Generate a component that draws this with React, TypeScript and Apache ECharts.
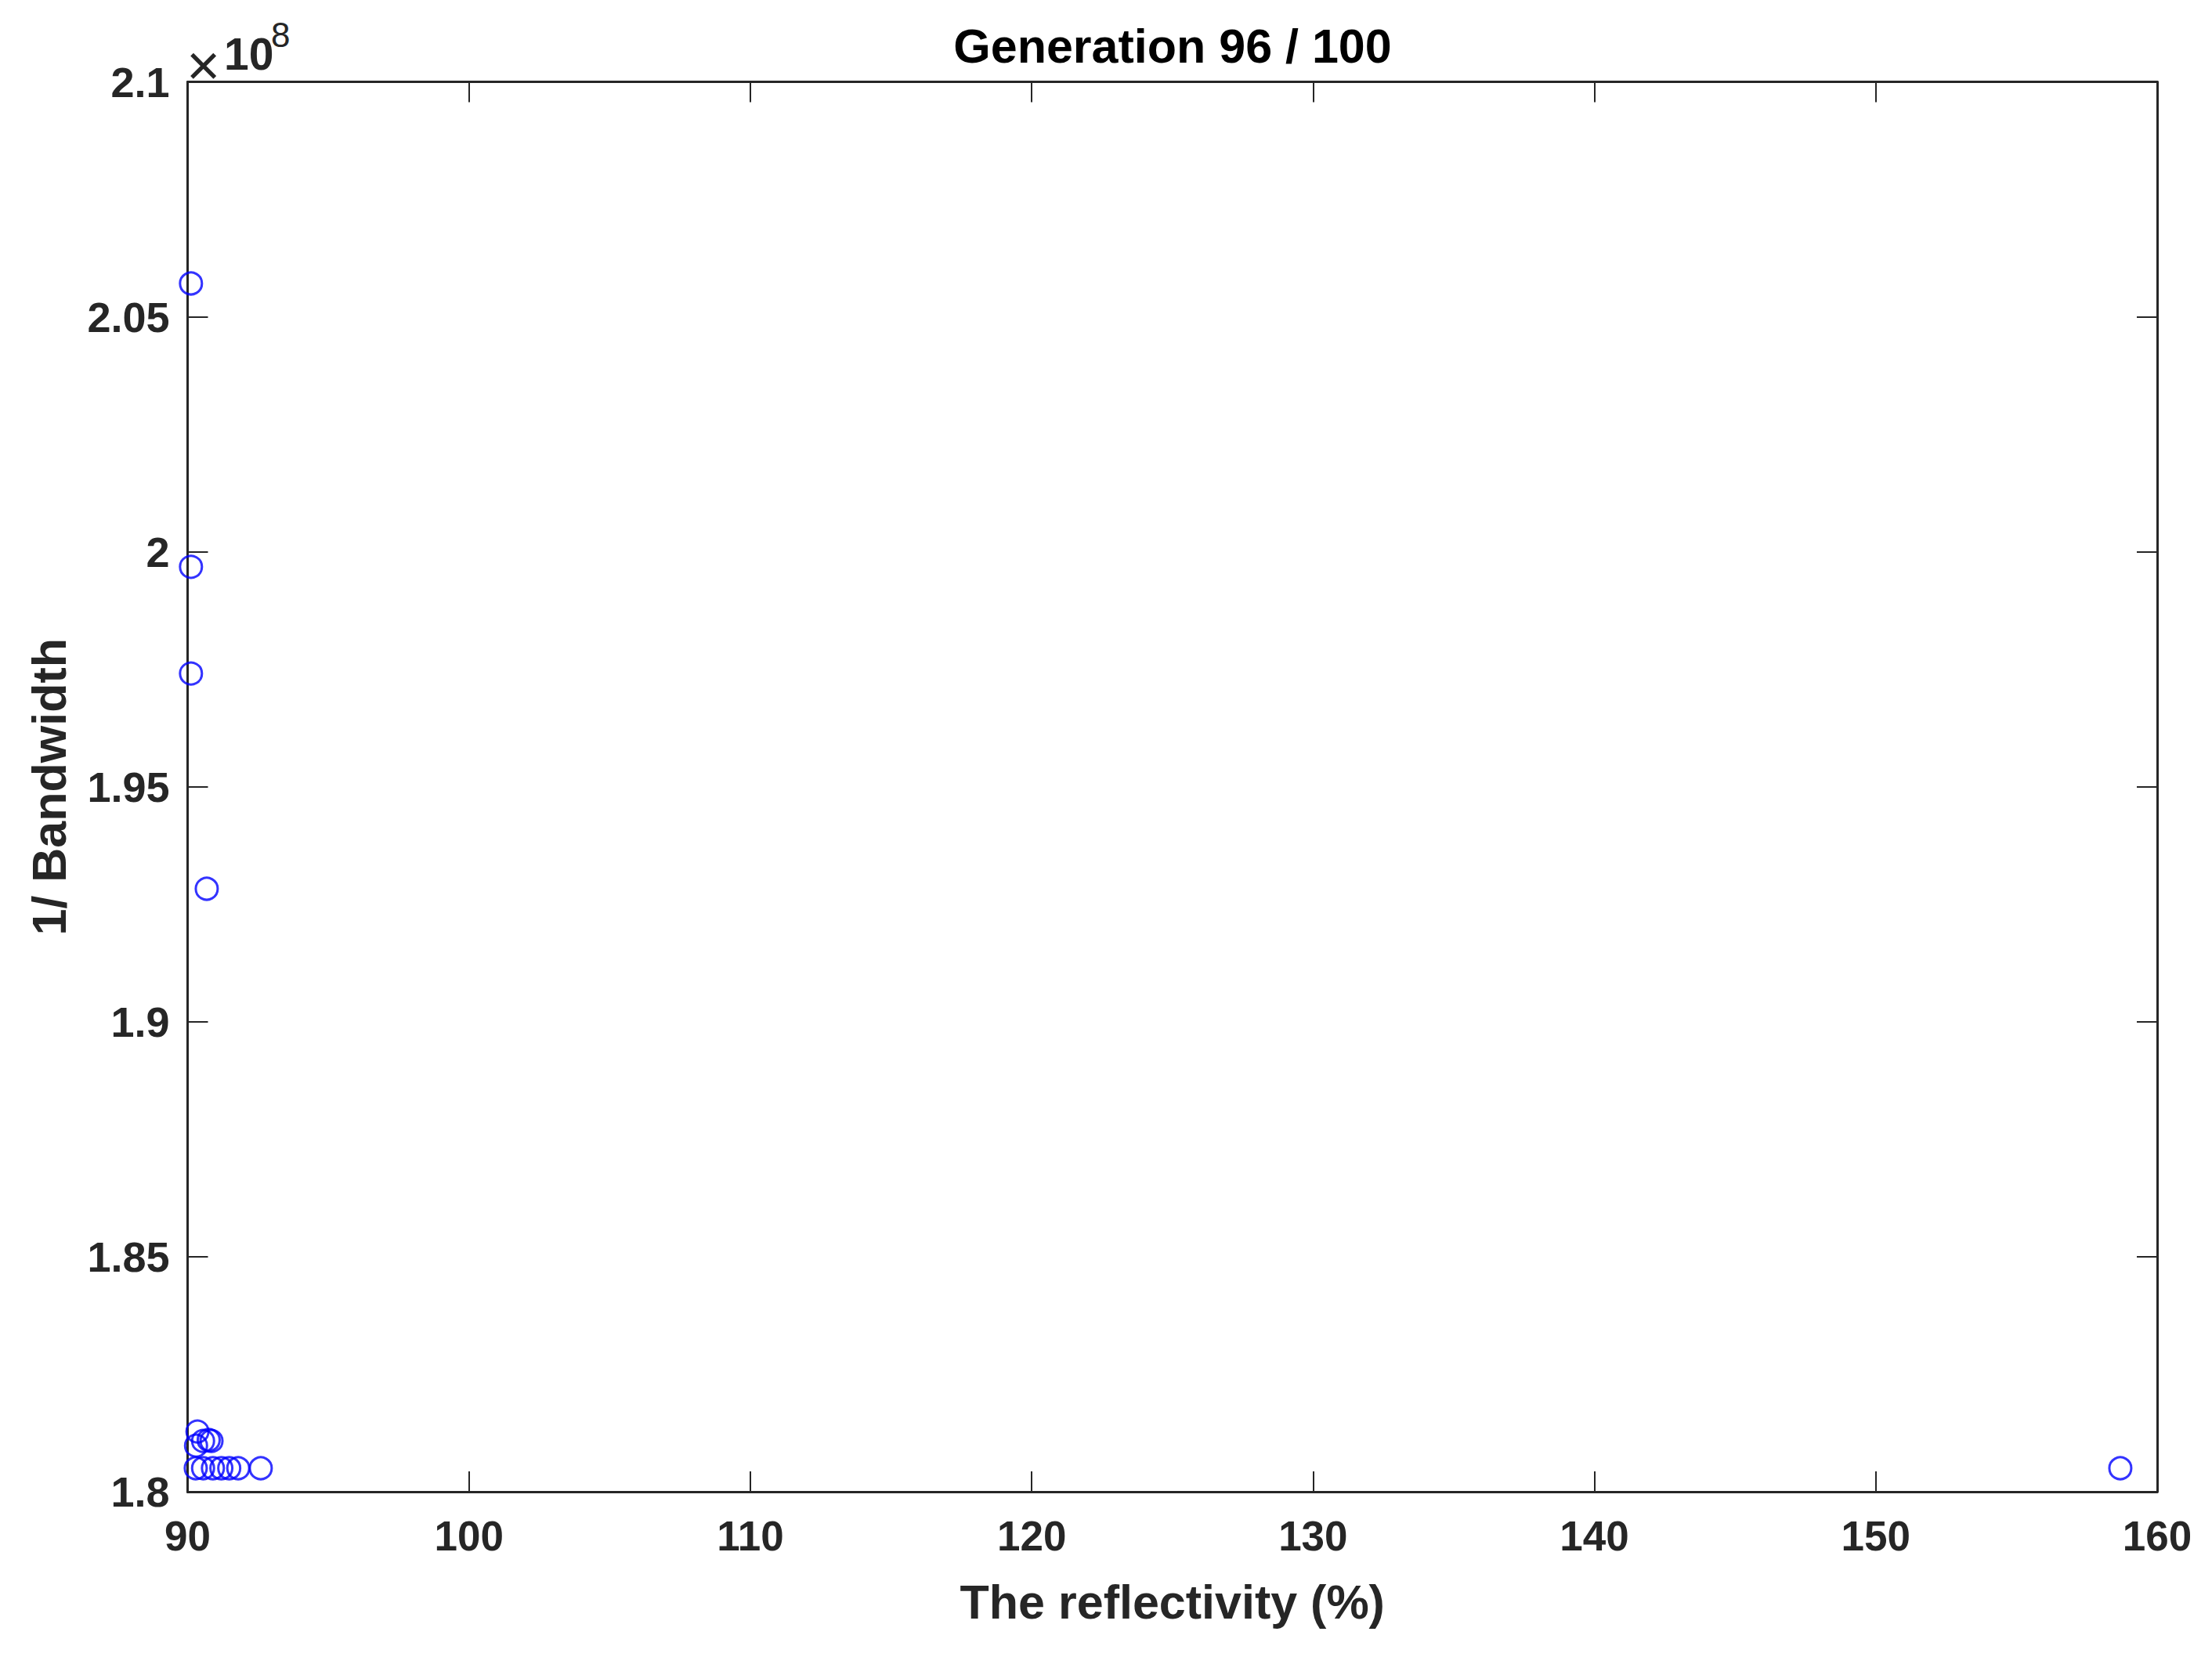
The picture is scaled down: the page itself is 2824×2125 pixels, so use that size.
import React, { useEffect, useRef } from "react";
import * as echarts from "echarts";

const titleText = "Generation 96 / 100";
const xName = "The reflectivity (%)";
const yName = "1/ Bandwidth";
const xMin = 90;
const xMax = 160;
const xStep = 10;
const yMin = 1.8e8;
const yMax = 2.1e8;
const yStep = 0.05e8;

// reflectivity (%)
const reflectivity = [
  90.12, 90.12, 90.12, 90.68,
  90.35, 90.3, 90.55, 90.75, 90.85,
  90.29, 90.55, 90.9, 91.2, 91.48, 91.8, 92.6, 158.69,
];
// 1/Bandwidth (x 1e8)
const invBandwidth = [
  2.0571, 1.9968, 1.9741, 1.9283,
  1.8128, 1.8098, 1.8108, 1.811, 1.8108,
  1.805, 1.805, 1.805, 1.805, 1.805, 1.805, 1.805, 1.805,
];

const AX = "#262626";
const FONT = "'Liberation Sans', Arial, Helvetica, sans-serif";

export default function App() {
  const ref = useRef<HTMLDivElement>(null);
  useEffect(() => {
    document.body.style.margin = "0";
    if (!ref.current) return;
    const chart = echarts.init(ref.current, null, { renderer: "svg" });
    const data = reflectivity.map((x, i) => [x, invBandwidth[i] * 1e8]);
    const common = {
      type: "value" as const,
      axisLine: { show: true, onZero: false, lineStyle: { color: AX, width: 3 } },
      axisTick: { show: true, inside: true, length: 26, lineStyle: { color: AX, width: 2 } },
      splitLine: { show: false },
    };
    const fmtY = (v: number) => String(+(v / 1e8).toFixed(2));
    chart.setOption({
      animation: false,
      backgroundColor: "#ffffff",
      title: {
        text: titleText,
        left: 1497,
        textAlign: "center",
        top: 28,
        padding: 0,
        textStyle: { fontFamily: FONT, fontSize: 61, fontWeight: "bold", color: "#000" },
      },
      grid: { left: 239.5, right: 70, top: 104.5, bottom: 220, containLabel: false },
      xAxis: [
        {
          ...common,
          position: "bottom",
          min: xMin,
          max: xMax,
          interval: xStep,
          name: xName,
          nameLocation: "middle",
          nameGap: 110,
          nameTextStyle: { fontFamily: FONT, fontSize: 61, fontWeight: "bold", color: AX },
          axisLabel: { margin: 30, fontFamily: FONT, fontSize: 53, fontWeight: "bold", color: AX },
        },
        {
          ...common,
          position: "top",
          min: xMin,
          max: xMax,
          interval: xStep,
          axisLabel: { show: false },
        },
      ],
      yAxis: [
        {
          ...common,
          position: "left",
          min: yMin,
          max: yMax,
          interval: yStep,
          name: yName,
          nameLocation: "middle",
          nameGap: 146,
          nameTextStyle: { fontFamily: FONT, fontSize: 61, fontWeight: "bold", color: AX },
          axisLabel: { margin: 23, formatter: fmtY, fontFamily: FONT, fontSize: 54, fontWeight: "bold", color: AX },
        },
        {
          ...common,
          position: "right",
          min: yMin,
          max: yMax,
          interval: yStep,
          axisLabel: { show: false },
        },
      ],
      graphic: [
        {
          type: "text",
          left: 238,
          top: 46,
          style: { text: "×", font: `normal 74px ${FONT}`, fill: AX },
        },
        {
          type: "text",
          left: 286,
          top: 40,
          style: { text: "10", font: `bold 57px ${FONT}`, fill: AX },
        },
        {
          type: "text",
          left: 346,
          top: 22,
          style: { text: "8", font: `normal 44px ${FONT}`, fill: AX },
        },
      ],
      series: [
        {
          type: "scatter",
          xAxisIndex: 0,
          yAxisIndex: 0,
          data,
          symbol: "circle",
          symbolSize: 28,
          itemStyle: { color: "rgba(0,0,0,0)", borderColor: "#0000ff", borderWidth: 3 },
        },
      ],
    });
    return () => chart.dispose();
  }, []);
  return <div ref={ref} style={{ width: 2824, height: 2125 }} />;
}
